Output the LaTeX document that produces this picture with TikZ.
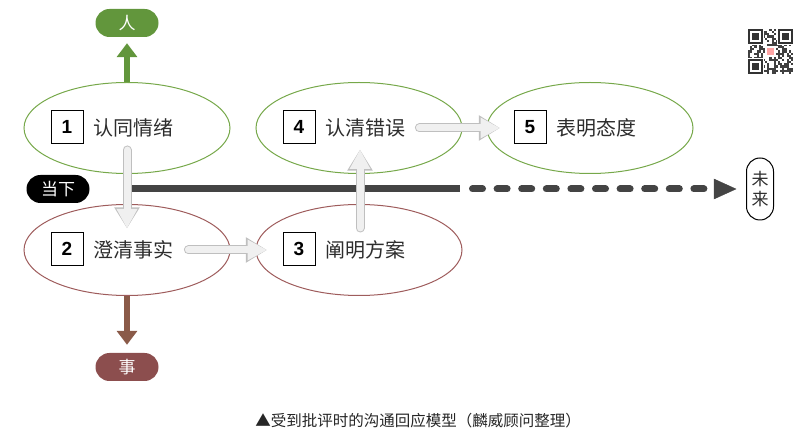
\documentclass[tikz,border=0pt]{standalone}
\usepackage{fontspec}
\setmainfont{Noto Sans CJK SC}
\newfontfamily\numfont{Liberation Sans}
\usepackage{tikz}
\usetikzlibrary{arrows.meta,positioning,shapes.geometric,calc}
\usepackage{xcolor}
\definecolor{grassgreen}{RGB}{118,168,74}
\definecolor{leafgreen}{RGB}{98,150,60}
\definecolor{rustred}{RGB}{158,92,92}
\definecolor{claretred}{RGB}{140,78,78}
\definecolor{arrowbrown}{RGB}{138,90,72}
\definecolor{inkgray}{RGB}{68,68,68}
\definecolor{textgray}{RGB}{45,45,45}

\begin{document}
\begin{tikzpicture}[x=1pt, y=-1pt,
  every node/.style={font=\fontsize{20}{24}\selectfont, text=textgray},
  stage/.style={ellipse, draw, line width=1pt, minimum width=206pt, minimum height=91pt, inner sep=0pt},
  numbox/.style={draw=black, line width=1pt, minimum width=32pt, minimum height=33pt, inner sep=0pt,
    font=\numfont\bfseries\fontsize{19}{22}\selectfont, text=black},
  pill/.style={rounded corners=14pt, minimum width=63pt, minimum height=28pt, inner sep=0pt,
    font=\fontsize{17}{20}\selectfont, text=white},
  flow/.style={line width=7pt, draw=black!6, fill=black!6, line cap=round, shorten >=1.6pt, shorten <=1pt,
    -{Triangle[width=19.5pt,length=19.4pt]},
    preaction={draw=black!25, fill=black!25, line width=9pt, line cap=round, -{Triangle[width=24pt,length=21pt]}}},
  timeline/.style={line width=7pt, draw=inkgray}]
  \useasboundingbox (0,0) rectangle (809,435);

  % the five stages
  \foreach \i/\x/\y/\txt/\col in {1/127/128/认同情绪/grassgreen, 4/359/128/认清错误/grassgreen,
      5/590/128/表明态度/grassgreen, 2/127/250/澄清事实/rustred, 3/359/250/阐明方案/rustred} {
    \node[stage, draw=\col] (s\i) at (\x,\y) {};
    \node[numbox] (k\i) at (\x-60,\y-1) {\i};
    \node[anchor=west, inner sep=0pt] (t\i) at (\x-34,\y) {\txt};
  }

  % people / matter
  \node[pill, fill=leafgreen] (ren) at (127,23) {人};
  \node[pill, fill=claretred] (shi) at (127,367) {事};
  \draw[line width=6pt, leafgreen, shorten >=6pt, -{Triangle[width=20pt,length=14pt]}] (s1.north) -- (ren.south);
  \draw[line width=6pt, arrowbrown, shorten >=8pt, -{Triangle[width=20pt,length=14pt]}] (s2.south) -- (shi.north);

  % now -> future
  \node[pill, fill=black] (now) at (58,189) {当下};
  \node[draw=black, line width=1pt, fill=white, rounded corners=13.5pt, minimum width=27pt, minimum height=62pt,
    inner sep=0pt, align=center, font=\fontsize{17}{20}\selectfont] (fut) at (760,189) {未\\来};
  \coordinate (split) at (460,189);
  \draw[timeline] ($(now.east)+(41,0)$) -- (split);
  \draw[timeline, line cap=round, dash pattern=on 10pt off 14.6pt] ($(split)+(12.5,0)$) -- ($(fut.west)+(-39,0)$);
  \draw[draw=inkgray, fill=inkgray] ($(fut.west)+(-32,-10)$) -- ($(fut.west)+(-10,0)$) -- ($(fut.west)+(-32,10)$) -- cycle;

  % order of the steps
  \draw[flow] ($(s1)+(0,21)$) -- ($(s2)+(0,-20)$);
  \draw[flow] ($(t2.east)+(14,0)$) -- ($(s3.west)+(13,0)$);
  \draw[flow] ($(s3)+(1,-21)$) -- ($(s4)+(1,20)$);
  \draw[flow] ($(t4.east)+(13,0)$) -- ($(s5.west)+(15,0)$);

  % qr code
  \pgfmathsetseed{7}
  \foreach \r in {0,...,20} {
    \foreach \c in {0,...,20} {
      \pgfmathparse{rnd<0.5 ? 1 : 0}
      \ifnum\pgfmathresult=1
        \fill[black!75] (748+\c*2.14,29+\r*2.14) rectangle ++(2.14,2.14);
      \fi
    }
  }
  \foreach \qx/\qy in {748/29, 778/29, 748/59} {
    \fill[white] (\qx-1,\qy-1) rectangle ++(17,17);
    \fill[black!80] (\qx,\qy) rectangle ++(15,15);
    \fill[white] (\qx+2,\qy+2) rectangle ++(11,11);
    \fill[black!80] (\qx+4,\qy+4) rectangle ++(7,7);
  }
  \fill[white] (765,46) rectangle ++(11,11);
  \fill[red!35] (767,48) rectangle ++(7,7);

  % caption
  \node[font=\fontsize{15.5}{18}\selectfont, text=black!85] (cap) at (418,421) {▲受到批评时的沟通回应模型（麟威顾问整理）};
\end{tikzpicture}
\end{document}
